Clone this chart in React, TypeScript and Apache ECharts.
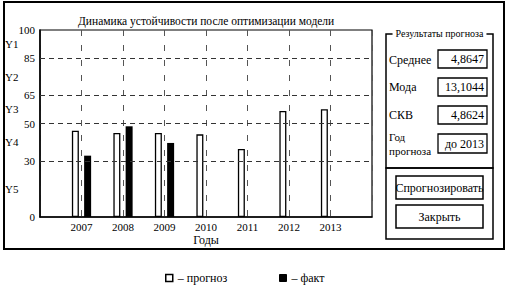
import React, { useEffect, useRef } from "react";
import * as echarts from "echarts";

const FONT = '"Liberation Serif", "Times New Roman", serif';

const years = ["", "2007", "2008", "2009", "2010", "2011", "2012", "2013", ""];
const forecast = [null, 46.1, 44.9, 44.9, 44.2, 36.4, 56.7, 57.6, null];
const actual = [null, 32.8, 48.5, 39.6, null, null, null, null, null];
const yTicks = [0, 30, 50, 65, 85, 100];
const gridValues = [30, 50, 65, 85];
const zoneLabels = ["Y5", "Y4", "Y3", "Y2", "Y1"];
const zoneCenters = [15, 40, 57.5, 75, 92.5];

const resultLabels = ["Среднее", "Мода", "СКВ"];
const resultValues = ["4,8647", "13,1044", "4,8624", "до 2013"];

function txt(text: string, x: number, y: number, size: number, align = "left", extra: any = {}) {
  return {
    type: "text",
    z: 10,
    style: {
      text,
      x,
      y,
      font: `${size}px ${FONT}`,
      fontSize: size,
      fontFamily: FONT,
      fill: "#000",
      textAlign: align,
      align,
      textVerticalAlign: "middle",
      verticalAlign: "middle",
      ...extra,
    },
  };
}

function box(x: number, y: number, w: number, h: number, lw = 1.5) {
  return {
    type: "rect",
    z: 5,
    shape: { x, y, width: w, height: h },
    style: { fill: "none", stroke: "#000", lineWidth: lw },
  };
}

export default function App() {
  const ref = useRef<HTMLDivElement>(null);
  useEffect(() => {
    if (!ref.current) return;
    const chart = echarts.init(ref.current, undefined, { renderer: "svg" });
    const valueBoxYs = [50, 78, 106, 134];
    const valueBoxHs = [18, 18, 18, 19];
    const labelYs = [60, 87, 115];
    const graphic: any[] = [
      box(4, 2, 500, 247, 2),
      box(386, 34, 107, 134, 1.5),
      box(386, 168, 107, 71, 1.5),
      txt("Результаты прогноза", 439.5, 33, 10, "center", {
        backgroundColor: "#fff",
        padding: [0, 3, 0, 3],
      }),
      ...resultLabels.map((l, i) => txt(l, 389, labelYs[i], 12)),
      txt("Год", 389, 137, 11),
      txt("прогноза", 389, 151, 11),
      ...resultValues.map((v, i) => box(438, valueBoxYs[i], 49, valueBoxHs[i], 1.3)),
      ...resultValues.map((v, i) =>
        txt(v, 484, valueBoxYs[i] + valueBoxHs[i] / 2, 12, "right")
      ),
      box(396, 176, 87, 23, 1.5),
      box(396, 205, 87, 23, 1.5),
      txt("Спрогнозировать", 439.5, 188, 12, "center"),
      txt("Закрыть", 439.5, 217, 12, "center"),
    ];

    chart.setOption({
      animation: false,
      backgroundColor: "#fff",
      textStyle: { fontFamily: FONT, color: "#000" },
      title: {
        text: "Динамика устойчивости после оптимизации модели",
        left: 73,
        top: 10,
        textStyle: { fontFamily: FONT, fontSize: 11.5, fontWeight: "normal", color: "#000" },
      },
      grid: {
        left: 40,
        right: 136,
        top: 30,
        bottom: 69,
        show: true,
        borderColor: "#000",
        borderWidth: 1.2,
        backgroundColor: "transparent",
      },
      legend: [
        {
          data: ["прогноз"],
          left: 160,
          top: 267,
          icon: "rect",
          itemWidth: 7,
          itemHeight: 7,
          itemGap: 6,
          formatter: (n: string) => "– " + n,
          itemStyle: { color: "#fff", borderColor: "#000", borderWidth: 1.5 },
          textStyle: { fontFamily: FONT, fontSize: 12, color: "#000" },
        },
        {
          data: ["факт"],
          left: 274,
          top: 267,
          icon: "rect",
          itemWidth: 7,
          itemHeight: 7,
          formatter: (n: string) => "– " + n,
          itemStyle: { color: "#000", borderColor: "#000", borderWidth: 1 },
          textStyle: { fontFamily: FONT, fontSize: 12, color: "#000" },
        },
      ],
      xAxis: {
        type: "category",
        data: years,
        boundaryGap: false,
        axisLine: { lineStyle: { color: "#000", width: 1.5 } },
        axisTick: { show: false },
        axisLabel: { interval: 0, color: "#000", fontFamily: FONT, fontSize: 11, margin: 4 },
        splitLine: {
          show: true,
          interval: 0,
          lineStyle: { color: "#555", width: 1, type: [6, 9] },
        },
        name: "Годы",
        nameLocation: "middle",
        nameGap: 17,
        nameMoveOverlap: false,
        nameTextStyle: { fontFamily: FONT, fontSize: 12, color: "#000", verticalAlign: "top" },
      },
      yAxis: [
        {
          type: "value",
          min: 0,
          max: 100,
          axisLine: { show: true, lineStyle: { color: "#000", width: 1.5 } },
          axisTick: { show: false },
          splitLine: { show: false },
          axisLabel: {
            customValues: yTicks,
            color: "#000",
            fontFamily: FONT,
            fontSize: 11,
            margin: 5,
          },
        },
        {
          type: "value",
          min: 0,
          max: 100,
          position: "left",
          axisLine: { show: false },
          axisTick: { show: false },
          splitLine: { show: false },
          axisLabel: {
            customValues: zoneCenters,
            formatter: (v: number) => zoneLabels[zoneCenters.indexOf(v)] ?? "",
            align: "left",
            margin: 35,
            color: "#000",
            fontFamily: FONT,
            fontSize: 11,
          },
        },
      ],
      series: [
        {
          name: "прогноз",
          type: "bar",
          data: forecast,
          barWidth: 7,
          barGap: "75%",
          itemStyle: { color: "#fff", borderColor: "#000", borderWidth: 1.3 },
          markLine: {
            silent: true,
            symbol: ["none", "none"],
            label: { show: false },
            lineStyle: { color: "#333", width: 1, type: [5, 4] },
            data: gridValues.map((v) => ({ yAxis: v })),
          },
        },
        {
          name: "факт",
          type: "bar",
          data: actual,
          barWidth: 7,
          itemStyle: { color: "#000" },
        },
      ],
      graphic,
    });
    return () => chart.dispose();
  }, []);
  return (
    <div
      ref={ref}
      style={{ position: "fixed", left: 0, top: 0, width: 508, height: 286, background: "#fff" }}
    />
  );
}
